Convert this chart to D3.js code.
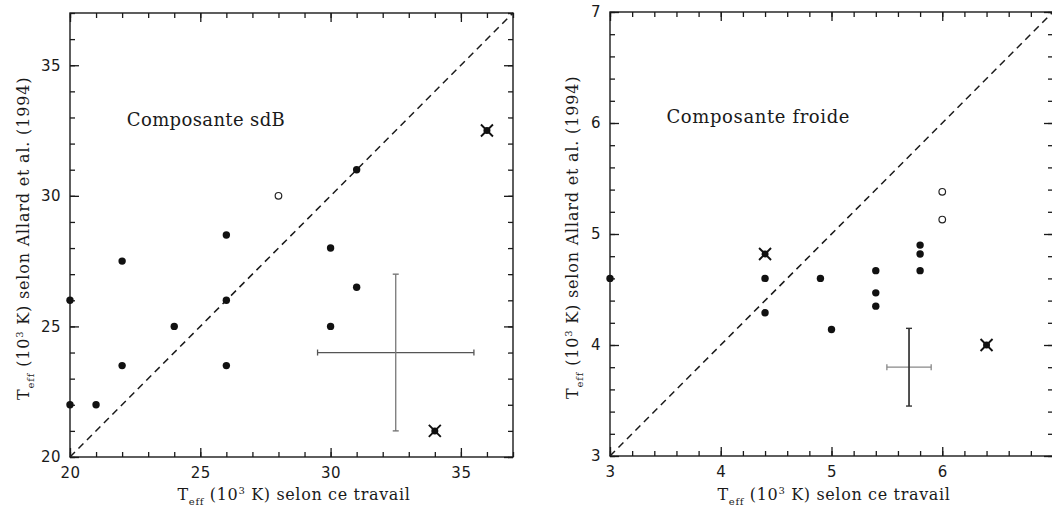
<!DOCTYPE html>
<html>
<head>
<meta charset="utf-8">
<script src="https://cdn.jsdelivr.net/npm/d3@7"></script>
<style>
  html, body { margin: 0; padding: 0; background: #fff; }
  svg { display: block; }
</style>
</head>
<body>
<svg id="fig" width="1052" height="506"></svg>
<script>
// ---- data: Teff (10^3 K), this work (x) versus Allard et al. 1994 (y) ----

// hot (sdB) component
const sdbFilled = [[20, 26], [20, 22], [21, 22], [22, 27.5], [22, 23.5], [24, 25],
                   [26, 28.5], [26, 26], [26, 23.5], [30, 28], [30, 25], [31, 31], [31, 26.5]];
const sdbOpen = [[28, 30]];
const sdbCrossed = [[36, 32.5], [34, 21]];
const sdbError = [32.5, 24, 3, 3];        // x, y, ±dx, ±dy
const sdbTicks = [20, 25, 30, 35];

// cool component
const coolFilled = [[3, 4.6], [4.4, 4.6], [4.4, 4.29], [4.9, 4.6], [5, 4.14],
                    [5.4, 4.67], [5.4, 4.47], [5.4, 4.35], [5.8, 4.9], [5.8, 4.82], [5.8, 4.67]];
const coolOpen = [[6, 5.38], [6, 5.13]];
const coolCrossed = [[4.4, 4.82], [6.4, 4.0]];
const coolError = [5.7, 3.8, 0.2, 0.35];
const coolTicksX = [3, 4, 5, 6];
const coolTicksY = [3, 4, 5, 6, 7];

const svg = d3.select("#fig");
const INK = "#1a1a1a";

// Stretch a text element's letter spacing so it spans a given width
function fitWidth(textSel, width) {
  const node = textSel.node();
  const natural = node.getComputedTextLength();
  const n = node.textContent.length;
  textSel.attr("letter-spacing", ((width - natural) / (n - 1)).toFixed(2));
}

// axis title with subscript "eff" and superscript "3"
function axisTitle(g, tail) {
  const t = g.append("text")
    .attr("font-family", "DejaVu Serif")
    .attr("font-size", 16)
    .attr("fill", INK);
  t.append("tspan").text("T");
  t.append("tspan").attr("font-size", 10).attr("dy", 5).text("eff");
  t.append("tspan").attr("dy", -5).text(" (10");
  t.append("tspan").attr("font-size", 10).attr("dy", -6).text("3");
  t.append("tspan").attr("dy", 6).text(" K) " + tail);
  return t;
}

function panel(cfg) {
  const x = d3.scaleLinear().domain(cfg.domain).range([cfg.left, cfg.right]);
  const y = d3.scaleLinear().domain(cfg.domain).range([cfg.bottom, cfg.top]);
  const g = svg.append("g");

  const majorLen = 9, minorLen = 5;
  const minor = d3.range(cfg.domain[0], cfg.domain[1] + 1e-9, cfg.minorStep)
    .map(v => +v.toFixed(3));

  function styleAxis(sel) {
    sel.select(".domain").remove();
    sel.selectAll("line").attr("stroke", INK).attr("stroke-width", 1.3);
    sel.selectAll("text")
      .attr("font-family", "DejaVu Sans")
      .attr("font-size", 15)
      .attr("letter-spacing", 0.5)
      .attr("fill", INK);
  }

  // bottom axis: labelled majors + minors
  g.append("g").attr("transform", `translate(0,${cfg.bottom})`)
    .call(d3.axisBottom(x).tickValues(cfg.ticksX).tickSize(-majorLen).tickPadding(10)
      .tickFormat(d3.format("d")))
    .call(styleAxis);
  g.append("g").attr("transform", `translate(0,${cfg.bottom})`)
    .call(d3.axisBottom(x).tickValues(minor).tickSize(-minorLen).tickFormat(""))
    .call(styleAxis);
  // top axis
  g.append("g").attr("transform", `translate(0,${cfg.top})`)
    .call(d3.axisTop(x).tickValues(cfg.ticksY).tickSize(-majorLen).tickFormat(""))
    .call(styleAxis);
  g.append("g").attr("transform", `translate(0,${cfg.top})`)
    .call(d3.axisTop(x).tickValues(minor).tickSize(-minorLen).tickFormat(""))
    .call(styleAxis);
  // left axis
  g.append("g").attr("transform", `translate(${cfg.left},0)`)
    .call(d3.axisLeft(y).tickValues(cfg.ticksY).tickSize(-majorLen).tickPadding(9)
      .tickFormat(d3.format("d")))
    .call(styleAxis);
  g.append("g").attr("transform", `translate(${cfg.left},0)`)
    .call(d3.axisLeft(y).tickValues(minor).tickSize(-minorLen).tickFormat(""))
    .call(styleAxis);
  // right axis
  g.append("g").attr("transform", `translate(${cfg.right},0)`)
    .call(d3.axisRight(y).tickValues(cfg.ticksY).tickSize(-majorLen).tickFormat(""))
    .call(styleAxis);
  g.append("g").attr("transform", `translate(${cfg.right},0)`)
    .call(d3.axisRight(y).tickValues(minor).tickSize(-minorLen).tickFormat(""))
    .call(styleAxis);

  // frame
  g.append("rect")
    .attr("x", cfg.left).attr("y", cfg.top)
    .attr("width", cfg.right - cfg.left).attr("height", cfg.bottom - cfg.top)
    .attr("fill", "none").attr("stroke", INK).attr("stroke-width", 1.4);

  // one-to-one line
  g.append("line")
    .attr("x1", x(cfg.domain[0])).attr("y1", y(cfg.domain[0]))
    .attr("x2", x(cfg.domain[1])).attr("y2", y(cfg.domain[1]))
    .attr("stroke", INK).attr("stroke-width", 1.5).attr("stroke-dasharray", "7,5");

  // typical error cross
  const [ex, ey, edx, edy] = cfg.error;
  const eb = g.append("g").attr("fill", "none");
  eb.append("line")
    .attr("x1", x(ex - edx)).attr("x2", x(ex + edx)).attr("y1", y(ey)).attr("y2", y(ey))
    .attr("stroke", cfg.hColor).attr("stroke-width", 1.3);
  eb.selectAll(".hcap").data([ex - edx, ex + edx]).join("line")
    .attr("x1", d => x(d)).attr("x2", d => x(d))
    .attr("y1", y(ey) - 3).attr("y2", y(ey) + 3)
    .attr("stroke", cfg.hColor).attr("stroke-width", 1.3);
  eb.append("line")
    .attr("x1", x(ex)).attr("x2", x(ex)).attr("y1", y(ey - edy)).attr("y2", y(ey + edy))
    .attr("stroke", cfg.vColor).attr("stroke-width", cfg.vWidth);
  eb.selectAll(".vcap").data([ey - edy, ey + edy]).join("line")
    .attr("x1", x(ex) - 3).attr("x2", x(ex) + 3)
    .attr("y1", d => y(d)).attr("y2", d => y(d))
    .attr("stroke", cfg.vColor).attr("stroke-width", 1.4);

  // filled points
  g.append("g").selectAll("circle").data(cfg.filled).join("circle")
    .attr("cx", d => x(d[0])).attr("cy", d => y(d[1])).attr("r", 3.7)
    .attr("fill", "#111");
  // open points
  g.append("g").selectAll("circle").data(cfg.open).join("circle")
    .attr("cx", d => x(d[0])).attr("cy", d => y(d[1])).attr("r", 3.3)
    .attr("fill", "#fff").attr("stroke", "#222").attr("stroke-width", 1.2);
  // crossed points
  const cross = g.append("g").selectAll("g").data(cfg.crossed).join("g")
    .attr("transform", d => `translate(${x(d[0])},${y(d[1])})`);
  cross.append("circle").attr("r", 3.5).attr("fill", "#111");
  cross.append("path").attr("d", "M-6,-6L6,6M-6,6L6,-6")
    .attr("stroke", "#111").attr("stroke-width", 1.9);

  // component label
  const lab = g.append("text")
    .attr("x", x(cfg.label.x)).attr("y", y(cfg.label.y))
    .attr("font-family", "DejaVu Serif").attr("font-size", 18)
    .attr("fill", INK).text(cfg.label.text);
  fitWidth(lab, cfg.label.width);

  // axis titles
  const cx = (cfg.left + cfg.right) / 2 + 2;
  const xt = axisTitle(g, "selon ce travail");
  fitWidth(xt, 232);
  xt.attr("x", cx - 116).attr("y", 500);

  const cy = (cfg.top + cfg.bottom) / 2 + 4;
  const yt = axisTitle(g, "selon Allard et al. (1994)");
  fitWidth(yt, 322);
  yt.attr("transform", `translate(${cfg.yTitleX},${cy + 161}) rotate(-90)`);
}

panel({
  left: 70, right: 513, top: 13, bottom: 457,
  domain: [20, 37], minorStep: 1,
  ticksX: sdbTicks, ticksY: sdbTicks,
  filled: sdbFilled, open: sdbOpen, crossed: sdbCrossed,
  error: sdbError, hColor: "#555", vColor: "#777", vWidth: 1.3,
  label: { text: "Composante sdB", x: 22.18, y: 32.68, width: 158 },
  yTitleX: 29
});

panel({
  left: 610, right: 1053, top: 12, bottom: 456,
  domain: [3, 7], minorStep: 0.2,
  ticksX: coolTicksX, ticksY: coolTicksY,
  filled: coolFilled, open: coolOpen, crossed: coolCrossed,
  error: coolError, hColor: "#888", vColor: "#333", vWidth: 1.7,
  label: { text: "Composante froide", x: 3.51, y: 6.0, width: 183 },
  yTitleX: 578
});
</script>
</body>
</html>
